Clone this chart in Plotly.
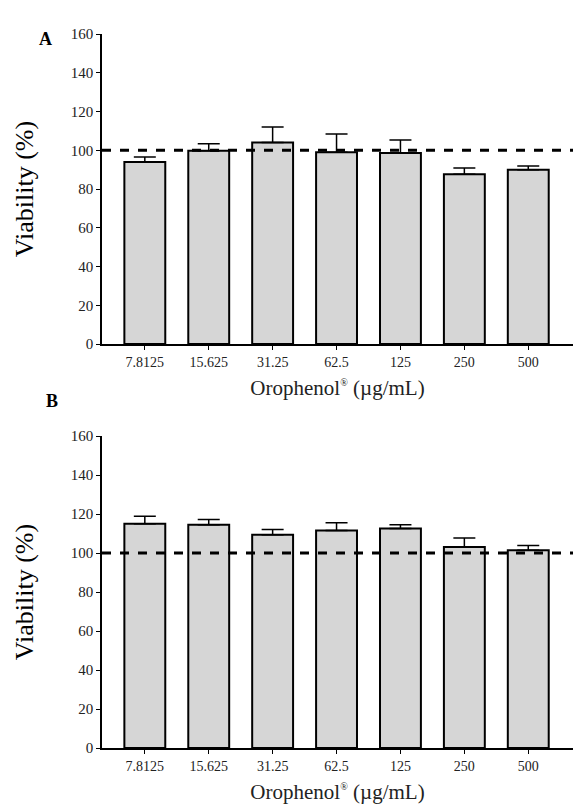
import plotly.graph_objects as go

categories = ["7.8125", "15.625", "31.25", "62.5", "125", "250", "500"]
viability_a = [94.0, 99.8, 104.0, 99.0, 98.6, 87.6, 90.0]
error_a = [2.5, 3.6, 8.0, 9.4, 6.7, 3.3, 1.9]
viability_b = [115.0, 114.5, 109.3, 111.6, 112.6, 103.1, 101.4]
error_b = [3.8, 2.7, 2.7, 3.9, 1.9, 4.6, 2.4]
y_ticks = [0, 20, 40, 60, 80, 100, 120, 140, 160]
reference_level = 100

SERIF = "'Liberation Serif', 'Times New Roman', Times, serif"
BAR_FILL = "#d6d6d6"

fig = go.Figure()

for vals, errs, xa, ya in [(viability_a, error_a, "x", "y"), (viability_b, error_b, "x2", "y2")]:
    fig.add_trace(go.Bar(
        x=categories, y=vals, xaxis=xa, yaxis=ya,
        width=0.64,
        marker=dict(color=BAR_FILL, line=dict(color="black", width=2)),
        error_y=dict(type="data", symmetric=False, array=errs,
                     arrayminus=[0] * len(errs), color="black",
                     thickness=1.5, width=11),
        showlegend=False,
        hoverinfo="x+y",
    ))

axis_common = dict(
    showline=True, linecolor="black", linewidth=1.5,
    ticks="outside", ticklen=4, tickwidth=1.3, tickcolor="black",
    showgrid=False, zeroline=False,
)

x_title = "Orophenol<sup><span style='font-size:10px'>®</span></sup> (µg/mL)"

fig.update_layout(
    width=573, height=805,
    margin=dict(l=102, r=0, t=34, b=57),
    plot_bgcolor="white", paper_bgcolor="white",
    font=dict(family=SERIF, color="#222", size=14),
    xaxis=dict(**axis_common, domain=[0, 1], anchor="y",
               range=[-0.67, 6.7], type="category",
               tickfont=dict(size=14, family=SERIF, color="#222"),
               title=dict(text=x_title,
                          font=dict(size=21, family=SERIF, color="#222"),
                          standoff=12)),
    yaxis=dict(**axis_common, domain=[0.5658, 1.0], anchor="x",
               range=[0, 160], tickvals=y_ticks,
               tickfont=dict(size=15, family=SERIF, color="#222"),
               title=dict(text="Viability (%)",
                          font=dict(size=26, family=SERIF, color="black"),
                          standoff=30)),
    xaxis2=dict(**axis_common, domain=[0, 1], anchor="y2",
                range=[-0.67, 6.7], type="category",
                tickfont=dict(size=14, family=SERIF, color="#222"),
                title=dict(text=x_title,
                           font=dict(size=21, family=SERIF, color="#222"),
                           standoff=12)),
    yaxis2=dict(**axis_common, domain=[0.0, 0.43697], anchor="x2",
                range=[0, 160], tickvals=y_ticks,
                tickfont=dict(size=15, family=SERIF, color="#222"),
                title=dict(text="Viability (%)",
                           font=dict(size=26, family=SERIF, color="black"),
                           standoff=30)),
)

for yref in ["y", "y2"]:
    fig.add_shape(type="line", xref="paper", yref=yref,
                  x0=0, x1=1, y0=reference_level, y1=reference_level,
                  line=dict(color="black", width=3, dash="dash"), layer="above")

fig.add_annotation(text="<b>A</b>", xref="paper", yref="paper",
                   x=(37 - 102) / 471, y=(805 - 57 - 27) / 714,
                   showarrow=False, font=dict(size=18, family=SERIF, color="black"))
fig.add_annotation(text="<b>B</b>", xref="paper", yref="paper",
                   x=(44 - 102) / 471, y=(805 - 57 - 401) / 714,
                   showarrow=False, font=dict(size=18, family=SERIF, color="black"))

fig.write_html("out.html")
